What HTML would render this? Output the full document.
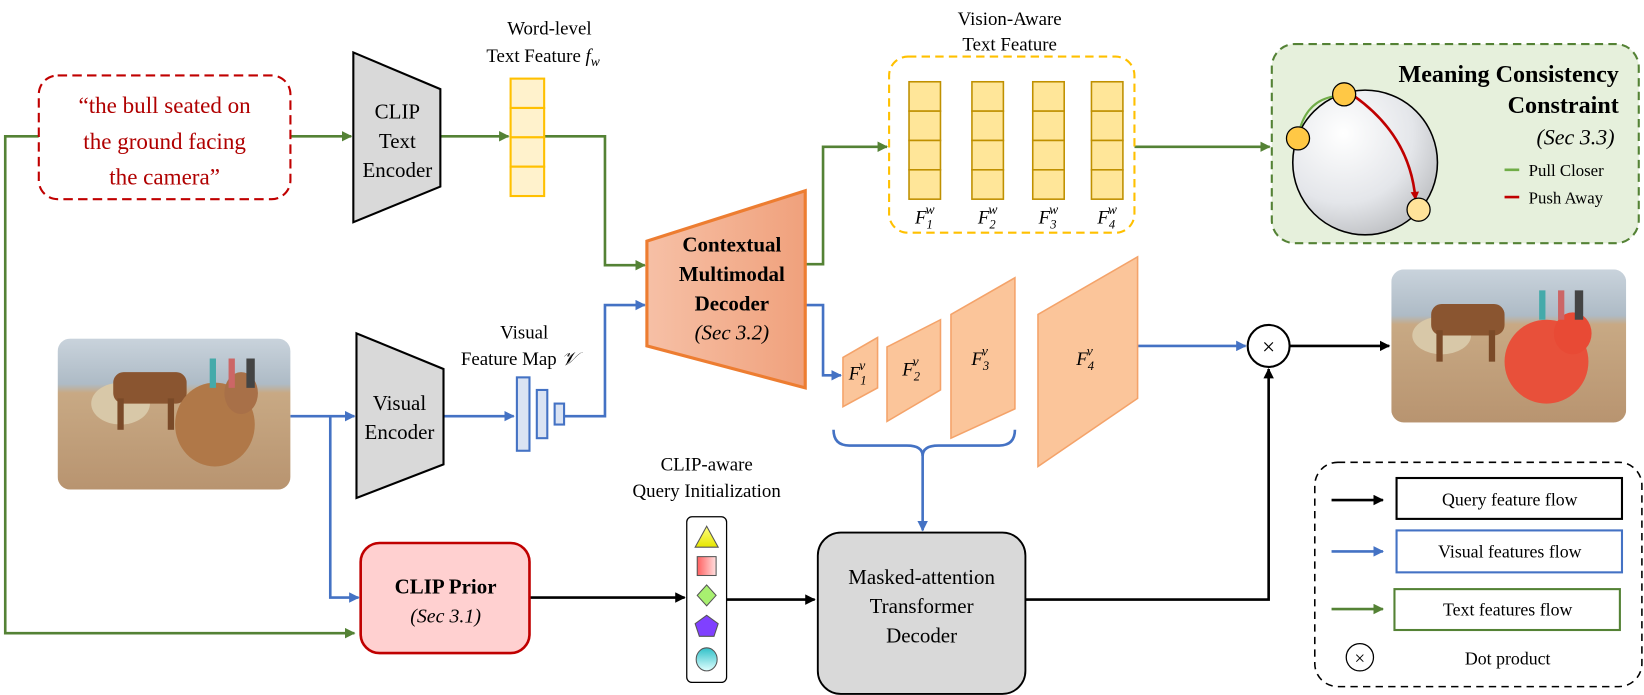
<!DOCTYPE html>
<html><head><meta charset="utf-8"><style>
html,body{margin:0;padding:0;background:#fff;}
svg{display:block;}
text{font-family:"Liberation Serif",serif;}
</style></head><body>
<svg width="1644" height="695" viewBox="0 0 1568 663" preserveAspectRatio="none" xmlns="http://www.w3.org/2000/svg">
<defs>
<marker id="ag" markerWidth="10" markerHeight="10" refX="9" refY="5" orient="auto" markerUnits="userSpaceOnUse"><path d="M0,0 L10,5 L0,10 z" fill="#548235"/></marker>
<marker id="ab" markerWidth="10" markerHeight="10" refX="9" refY="5" orient="auto" markerUnits="userSpaceOnUse"><path d="M0,0 L10,5 L0,10 z" fill="#4472c4"/></marker>
<marker id="ak" markerWidth="10" markerHeight="10" refX="9" refY="5" orient="auto" markerUnits="userSpaceOnUse"><path d="M0,0 L10,5 L0,10 z" fill="#000"/></marker>
<marker id="ar" markerWidth="8" markerHeight="8" refX="7" refY="4" orient="auto" markerUnits="userSpaceOnUse"><path d="M0,0 L8,4 L0,8 z" fill="#c00000"/></marker>
<linearGradient id="dec" x1="0" x2="1"><stop offset="0" stop-color="#f6c0a6"/><stop offset="1" stop-color="#f0a17c"/></linearGradient>
<radialGradient id="sph" cx="0.35" cy="0.3" r="0.8"><stop offset="0" stop-color="#fff"/><stop offset="0.6" stop-color="#e4e6ea"/><stop offset="1" stop-color="#b8babd"/></radialGradient>
<linearGradient id="photo" x1="0" y1="0" x2="0" y2="1"><stop offset="0" stop-color="#c9d3dc"/><stop offset="0.3" stop-color="#aebbc6"/><stop offset="0.36" stop-color="#c8a984"/><stop offset="1" stop-color="#b89470"/></linearGradient>
<linearGradient id="tri" x1="0" y1="0" x2="0" y2="1"><stop offset="0" stop-color="#ffff80"/><stop offset="1" stop-color="#e6e600"/></linearGradient>
<linearGradient id="sq" x1="0" x2="1"><stop offset="0" stop-color="#ff6060"/><stop offset="1" stop-color="#ffe0e0"/></linearGradient>
<linearGradient id="cy" x1="0" y1="0" x2="0" y2="1"><stop offset="0" stop-color="#30c0c8"/><stop offset="1" stop-color="#e0ffff"/></linearGradient>
<clipPath id="c1"><rect x="55" y="323" width="222" height="144" rx="12"/></clipPath>
<clipPath id="c2"><rect x="1327" y="257" width="224" height="146" rx="12"/></clipPath>
</defs>

<g fill="none" stroke="#548235" stroke-width="2.5">
<polyline points="37,130 5,130 5,604 338,604" marker-end="url(#ag)"/>
<line x1="277" y1="130" x2="335" y2="130" marker-end="url(#ag)"/>
<line x1="420" y1="130" x2="485" y2="130" marker-end="url(#ag)"/>
<polyline points="519,130 577,130 577,253 615,253" marker-end="url(#ag)"/>
<polyline points="768,252 785,252 785,140 846,140" marker-end="url(#ag)"/>
<line x1="1082" y1="140" x2="1211" y2="140" marker-end="url(#ag)"/>
</g>
<g fill="none" stroke="#4472c4" stroke-width="2.5">
<line x1="277" y1="397" x2="338" y2="397" marker-end="url(#ab)"/>
<polyline points="315,397 315,570 342,570" marker-end="url(#ab)"/>
<line x1="423" y1="397" x2="490" y2="397" marker-end="url(#ab)"/>
<polyline points="538,397 577,397 577,291 615,291" marker-end="url(#ab)"/>
<polyline points="768,291 785,291 785,358 802,358" marker-end="url(#ab)"/>
<path d="M795,410 Q795,425 810,425 L865,425 Q880,425 880,435 Q880,425 895,425 L953,425 Q968,425 968,410"/>
<line x1="880" y1="430" x2="880" y2="506" marker-end="url(#ab)"/>
<line x1="1085" y1="330" x2="1188" y2="330" marker-end="url(#ab)"/>
</g>
<g fill="none" stroke="#000" stroke-width="2.5">
<line x1="505" y1="570" x2="653" y2="570" marker-end="url(#ak)"/>
<line x1="693" y1="572" x2="777" y2="572" marker-end="url(#ak)"/>
<polyline points="978,572 1210,572 1210,352" marker-end="url(#ak)"/>
<line x1="1230" y1="330" x2="1325" y2="330" marker-end="url(#ak)"/>
</g>

<rect x="37" y="72" width="240" height="118" rx="18" fill="#fff" stroke="#c00000" stroke-width="2" stroke-dasharray="9,5"/>
<g fill="#b00000" font-size="22" text-anchor="middle">
<text x="157" y="108">“the bull seated on</text>
<text x="157" y="142">the ground facing</text>
<text x="157" y="176">the camera”</text>
</g>

<polygon points="337,50 420,85 420,178 337,212" fill="#d9d9d9" stroke="#000" stroke-width="2"/>
<g font-size="20" text-anchor="middle"><text x="379" y="113">CLIP</text><text x="379" y="141">Text</text><text x="379" y="169">Encoder</text></g>

<g fill="#fff2cc" stroke="#ffc000" stroke-width="2">
<rect x="487" y="75" width="32" height="28"/><rect x="487" y="103" width="32" height="28"/><rect x="487" y="131" width="32" height="28"/><rect x="487" y="159" width="32" height="28"/>
</g>
<g font-size="18" text-anchor="middle"><text x="524" y="33">Word-level</text><text x="518" y="59">Text Feature <tspan font-style="italic">f</tspan><tspan font-style="italic" font-size="13" dy="4">w</tspan></text></g>

<polygon points="617,230 768,182 768,370 617,330" fill="url(#dec)" stroke="#ed7d31" stroke-width="3"/>
<g font-size="20" text-anchor="middle" font-weight="bold"><text x="698" y="240">Contextual</text><text x="698" y="268">Multimodal</text><text x="698" y="296">Decoder</text></g>
<text x="698" y="324" font-size="20" font-style="italic" text-anchor="middle">(Sec 3.2)</text>

<rect x="848" y="54" width="234" height="168" rx="18" fill="#fff" stroke="#ffc000" stroke-width="2" stroke-dasharray="8,5"/>
<g font-size="18" text-anchor="middle"><text x="963" y="24">Vision-Aware</text><text x="963" y="48">Text Feature</text></g>
<g fill="#ffe699" stroke="#bf9000" stroke-width="1.5">
<rect x="867" y="78" width="30" height="28"/><rect x="867" y="106" width="30" height="28"/><rect x="867" y="134" width="30" height="28"/><rect x="867" y="162" width="30" height="28"/>
<rect x="927" y="78" width="30" height="28"/><rect x="927" y="106" width="30" height="28"/><rect x="927" y="134" width="30" height="28"/><rect x="927" y="162" width="30" height="28"/>
<rect x="985" y="78" width="30" height="28"/><rect x="985" y="106" width="30" height="28"/><rect x="985" y="134" width="30" height="28"/><rect x="985" y="162" width="30" height="28"/>
<rect x="1041" y="78" width="30" height="28"/><rect x="1041" y="106" width="30" height="28"/><rect x="1041" y="134" width="30" height="28"/><rect x="1041" y="162" width="30" height="28"/>
</g>
<g font-size="18" font-style="italic" text-anchor="middle">
<text x="882" y="213">F<tspan font-size="12" dy="5">1</tspan><tspan font-size="13" dx="-7" dy="-14">w</tspan></text>
<text x="942" y="213">F<tspan font-size="12" dy="5">2</tspan><tspan font-size="13" dx="-7" dy="-14">w</tspan></text>
<text x="1000" y="213">F<tspan font-size="12" dy="5">3</tspan><tspan font-size="13" dx="-7" dy="-14">w</tspan></text>
<text x="1056" y="213">F<tspan font-size="12" dy="5">4</tspan><tspan font-size="13" dx="-7" dy="-14">w</tspan></text>
</g>

<rect x="1213" y="42" width="350" height="190" rx="22" fill="#e6f0dc" stroke="#548235" stroke-width="2" stroke-dasharray="8,5"/>
<circle cx="1302" cy="155" r="69" fill="url(#sph)" stroke="#000" stroke-width="1.5"/>
<path d="M1240,122 Q1248,96 1272,92" fill="none" stroke="#70ad47" stroke-width="2"/>
<path d="M1292,92 Q1345,130 1350,190" fill="none" stroke="#c00000" stroke-width="2.5" marker-end="url(#ar)" marker-start="url(#ar)"/>
<circle cx="1282" cy="90" r="11" fill="#ffc845" stroke="#000" stroke-width="1.2"/>
<circle cx="1238" cy="132" r="11" fill="#ffc845" stroke="#000" stroke-width="1.2"/>
<circle cx="1353" cy="200" r="11" fill="#ffe39a" stroke="#000" stroke-width="1.2"/>
<g font-size="23" font-weight="bold" text-anchor="end"><text x="1544" y="78">Meaning Consistency</text><text x="1544" y="108">Constraint</text></g>
<text x="1540" y="138" font-size="21" font-style="italic" text-anchor="end">(Sec 3.3)</text>
<line x1="1435" y1="162" x2="1449" y2="162" stroke="#70ad47" stroke-width="2.5"/>
<line x1="1435" y1="188" x2="1449" y2="188" stroke="#c00000" stroke-width="2.5"/>
<g font-size="16"><text x="1458" y="168">Pull Closer</text><text x="1458" y="194">Push Away</text></g>

<g clip-path="url(#c1)">
<rect x="55" y="323" width="222" height="144" fill="url(#photo)"/>
<ellipse cx="115" cy="385" rx="28" ry="20" fill="#d8c8a8"/>
<rect x="108" y="355" width="70" height="30" rx="10" fill="#8a5530"/>
<rect x="112" y="380" width="6" height="30" fill="#7a4a28"/><rect x="160" y="380" width="6" height="30" fill="#7a4a28"/>
<ellipse cx="205" cy="405" rx="38" ry="40" fill="#b07848"/>
<ellipse cx="230" cy="375" rx="16" ry="20" fill="#a87048"/>
<rect x="200" y="342" width="6" height="28" fill="#4aa"/><rect x="218" y="342" width="6" height="28" fill="#c66"/><rect x="235" y="342" width="8" height="28" fill="#444"/>
</g>
<polygon points="340,318 423,352 423,443 340,475" fill="#d9d9d9" stroke="#000" stroke-width="2"/>
<g font-size="20" text-anchor="middle"><text x="381" y="391">Visual</text><text x="381" y="419">Encoder</text></g>
<g font-size="18" text-anchor="middle"><text x="500" y="323">Visual</text><text x="495" y="348">Feature Map <tspan font-style="italic">𝒱</tspan></text></g>
<g fill="#dae3f3" stroke="#4472c4" stroke-width="2">
<rect x="493" y="360" width="12" height="70"/><rect x="512" y="372" width="10" height="46"/><rect x="529" y="385" width="9" height="20"/>
</g>

<g fill="#fbc59a" stroke="#f4a36a" stroke-width="1.5">
<polygon points="804,341 837,322 837,370 804,388"/>
<polygon points="846,331 897,305 897,372 846,402"/>
<polygon points="907,300 968,265 968,390 907,418"/>
<polygon points="990,300 1085,245 1085,380 990,445"/>
</g>
<g font-size="18" font-style="italic" text-anchor="middle">
<text x="818" y="362">F<tspan font-size="12" dy="5">1</tspan><tspan font-size="13" dx="-7" dy="-14">v</tspan></text>
<text x="869" y="358">F<tspan font-size="12" dy="5">2</tspan><tspan font-size="13" dx="-7" dy="-14">v</tspan></text>
<text x="935" y="348">F<tspan font-size="12" dy="5">3</tspan><tspan font-size="13" dx="-7" dy="-14">v</tspan></text>
<text x="1035" y="348">F<tspan font-size="12" dy="5">4</tspan><tspan font-size="13" dx="-7" dy="-14">v</tspan></text>
</g>

<circle cx="1210" cy="330" r="20" fill="#fff" stroke="#000" stroke-width="2"/>
<text x="1210" y="338" font-size="22" text-anchor="middle">×</text>

<g clip-path="url(#c2)">
<rect x="1327" y="257" width="224" height="146" fill="url(#photo)"/>
<ellipse cx="1375" cy="320" rx="28" ry="18" fill="#d8c8a8"/>
<rect x="1365" y="290" width="70" height="30" rx="10" fill="#8a5530"/>
<rect x="1370" y="315" width="6" height="30" fill="#7a4a28"/><rect x="1420" y="315" width="6" height="30" fill="#7a4a28"/>
<ellipse cx="1475" cy="345" rx="40" ry="40" fill="#e8503a"/>
<ellipse cx="1500" cy="318" rx="18" ry="20" fill="#e84a35"/>
<rect x="1468" y="277" width="6" height="28" fill="#4aa"/><rect x="1486" y="277" width="6" height="28" fill="#c66"/><rect x="1502" y="277" width="8" height="28" fill="#444"/>
</g>

<rect x="344" y="518" width="161" height="105" rx="18" fill="#ffd0d0" stroke="#c00000" stroke-width="2.5"/>
<text x="425" y="566" font-size="20" font-weight="bold" text-anchor="middle">CLIP Prior</text>
<text x="425" y="594" font-size="19" font-style="italic" text-anchor="middle">(Sec 3.1)</text>

<g font-size="18" text-anchor="middle"><text x="674" y="449">CLIP-aware</text><text x="674" y="474">Query Initialization</text></g>
<rect x="655" y="493" width="38" height="158" rx="5" fill="#fff" stroke="#000" stroke-width="1.2"/>
<polygon points="674,502 663,522 685,522" fill="url(#tri)" stroke="#555" stroke-width="1"/>
<rect x="665" y="531" width="18" height="18" fill="url(#sq)" stroke="#555" stroke-width="1"/>
<polygon points="674,558 683,568 674,578 665,568" fill="#a8f070" stroke="#555" stroke-width="1"/>
<polygon points="674,587 685,595 681,607 667,607 663,595" fill="#8040ff" stroke="#555" stroke-width="1"/>
<ellipse cx="674" cy="629" rx="10" ry="11" fill="url(#cy)" stroke="#555" stroke-width="1"/>

<rect x="780" y="508" width="198" height="154" rx="22" fill="#d9d9d9" stroke="#000" stroke-width="1.8"/>
<g font-size="20" text-anchor="middle"><text x="879" y="557">Masked-attention</text><text x="879" y="585">Transformer</text><text x="879" y="613">Decoder</text></g>

<rect x="1254" y="441" width="312" height="214" rx="22" fill="#fff" stroke="#000" stroke-width="1.5" stroke-dasharray="7,5"/>
<line x1="1270" y1="477" x2="1319" y2="477" stroke="#000" stroke-width="2.5" marker-end="url(#ak)"/>
<line x1="1270" y1="526" x2="1319" y2="526" stroke="#4472c4" stroke-width="2.5" marker-end="url(#ab)"/>
<line x1="1270" y1="581" x2="1319" y2="581" stroke="#548235" stroke-width="2.5" marker-end="url(#ag)"/>
<rect x="1332" y="456" width="215" height="39" fill="#fff" stroke="#000" stroke-width="2"/>
<rect x="1332" y="506" width="215" height="40" fill="#fff" stroke="#4472c4" stroke-width="2"/>
<rect x="1330" y="562" width="215" height="39" fill="#fff" stroke="#548235" stroke-width="2"/>
<g font-size="17" text-anchor="middle"><text x="1440" y="482">Query feature flow</text><text x="1440" y="532">Visual features flow</text><text x="1438" y="587">Text features flow</text><text x="1438" y="634">Dot product</text></g>
<circle cx="1297" cy="627" r="13" fill="#fff" stroke="#000" stroke-width="1.2"/>
<text x="1297" y="634" font-size="18" text-anchor="middle">×</text>
</svg>
</body></html>
